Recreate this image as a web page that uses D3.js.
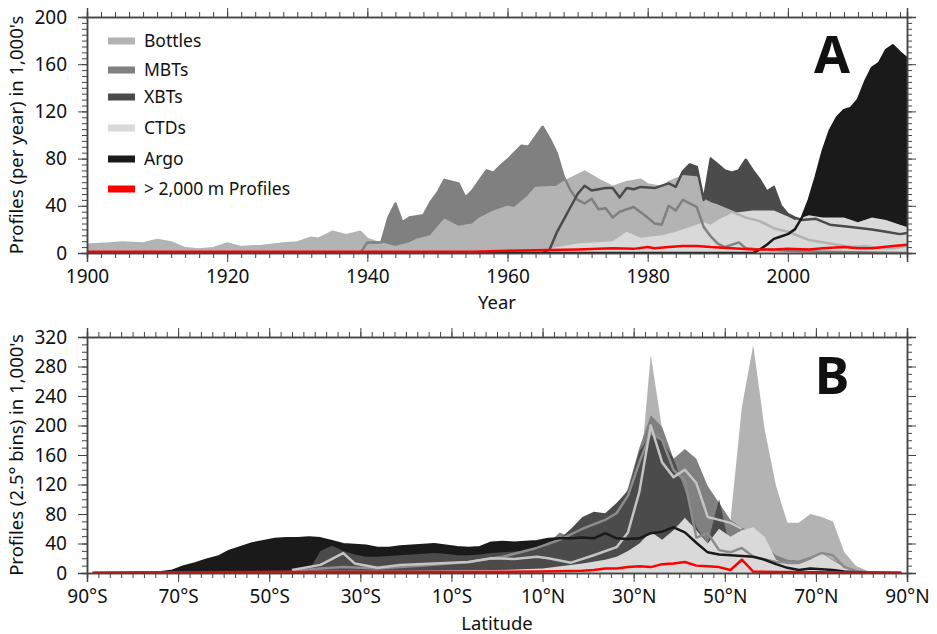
<!DOCTYPE html>
<html>
<head>
<meta charset="utf-8">
<script src="https://cdn.jsdelivr.net/npm/d3@7"></script>
<style>
  body { margin: 0; background: #fff; }
  text { font-family: "Noto Sans", sans-serif; fill: #111; }
</style>
</head>
<body>
<div id="canvas"></div>
<script>
// ---- panel A: profiles per year, [year, thousands] ----
const bottlesA = [[1900,7],[1903,8],[1905,9],[1908,8],[1910,11],[1912,9],[1914,4],[1916,3],[1918,4],[1920,8],[1922,5],
  [1925,6],[1928,8],[1930,9],[1932,13],[1933,12],[1935,18],[1937,15],[1939,18],[1940,12],[1942,8],[1944,5],[1946,8],
  [1947,11],[1949,14],[1951,28],[1953,22],[1955,24],[1956,29],[1958,35],[1960,39],[1961,38],[1963,48],[1964,55],
  [1967,56],[1968,60],[1971,69],[1973,62],[1975,56],[1977,60],[1979,62],[1980,58],[1982,56],[1983,60],[1985,65],
  [1987,64],[1988,45],[1989,42],[1990,40],[1992,35],[1994,30],[1996,27],[1998,21],[2000,18],[2003,11],[2006,8],
  [2009,5],[2011,6],[2013,4],[2015,4],[2017,6]]
const mbtA = [[1900,0],[1939,0],[1940,9],[1942,9],[1943,30],[1944,42],[1945,26],[1946,30],[1948,32],[1949,43],
  [1950,51],[1951,62],[1953,59],[1954,47],[1955,53],[1957,70],[1958,68],[1959,74],[1960,79],[1962,91],[1963,90],
  [1965,107],[1966,97],[1967,85],[1968,65],[1969,53],[1970,45],[1971,42],[1972,46],[1973,37],[1974,38],[1975,30],
  [1976,35],[1978,39],[1980,30],[1981,25],[1982,24],[1983,40],[1984,36],[1985,45],[1987,39],[1988,22],[1989,14],
  [1990,8],[1991,5],[1993,9],[1994,4],[1996,3],[2000,2],[2005,1],[2017,0]]
const xbtA = [[1900,0],[1965,0],[1966,3],[1967,17],[1968,28],[1969,39],[1970,50],[1971,57],[1972,53],[1974,55],
  [1975,55],[1976,47],[1977,55],[1978,54],[1979,56],[1981,55],[1983,59],[1984,56],[1985,69],[1986,75],[1987,73],
  [1988,45],[1989,80],[1990,75],[1991,70],[1992,68],[1993,70],[1994,79],[1995,70],[1996,62],[1997,52],[1998,56],
  [1999,40],[2000,33],[2001,30],[2002,28],[2004,29],[2006,24],[2009,22],[2012,20],[2014,18],[2016,16],[2017,17]]
const ctdA = [[1900,0],[1955,0],[1960,1],[1965,3],[1968,6],[1970,8],[1972,9],[1975,10],[1977,18],[1979,13],[1982,15],
  [1984,18],[1986,22],[1988,26],[1989,24],[1990,28],[1992,34],[1995,36],[1998,36],[2000,31],[2001,28],[2003,32],
  [2005,30],[2008,30],[2010,26],[2012,30],[2014,28],[2016,24],[2017,22]]
const argoA = [[1900,0],[1995,0],[1996,3],[1997,7],[1998,12],[1999,14],[2000,16],[2001,20],[2002,30],[2003,45],
  [2004,65],[2005,87],[2006,104],[2007,115],[2008,121],[2009,123],[2010,130],[2011,145],[2012,157],[2013,161],
  [2014,172],[2015,176],[2016,170],[2017,165]]
const deepA = [[1900,1],[1955,1],[1960,2],[1970,3],[1975,4],[1978,3.5],[1980,5],[1981,4],[1983,5],[1985,6],[1987,6],
  [1989,5],[1992,4],[1995,3],[1998,3],[2000,3.5],[2003,3],[2005,4],[2008,5],[2010,4],[2012,4],[2015,6],[2017,7]]

const yearTicks = [1900, 1920, 1940, 1960, 1980, 2000]
const countTicksA = [0, 40, 80, 120, 160, 200]

// ---- panel B: profiles per 2.5 degree latitude bin, [latitude, thousands] ----
const bottlesB = [[-88.75,0],[-80,0.5],[-70,2],[-60,3],[-50,4],[-40,5],[-30,5],[-20,4],[-10,5],[0,6],[10,10],[20,20],
  [28.75,60],[31.25,120],[33.75,296],[36.25,195],[38.75,140],[41.25,110],[43.75,100],[46.25,85],[48.75,70],[51.25,72],
  [53.75,225],[56.25,309],[58.75,195],[61.25,118],[63.75,68],[66.25,68],[68.75,80],[71.25,76],[73.75,70],[76.25,28],
  [78.75,10],[81.25,3],[83.75,1],[88.75,0]]
const mbtB = [[-88.75,0],[-60,1],[-40,3],[-35,6],[-20,5],[0,8],[10,20],[11.25,40],[13.75,55],[16.25,48],[18.75,40],
  [21.25,50],[23.75,60],[26.25,80],[28.75,115],[31.25,170],[33.75,214],[36.25,198],[38.75,155],[41.25,168],[43.75,155],
  [46.25,118],[48.75,95],[51.25,72],[53.75,62],[56.25,52],[58.75,38],[61.25,24],[63.75,18],[66.25,17],[68.75,22],
  [71.25,27],[73.75,18],[76.25,10],[78.75,3],[81.25,1],[88.75,0]]
const xbtB = [[-88.75,0],[-70,0.5],[-60,2],[-50,3],[-41.25,4],[-38.75,30],[-36.25,37],[-33.75,30],[-31.25,25],
  [-28.75,22],[-26.25,22],[-23.75,23],[-21.25,24],[-18.75,25],[-16.25,26],[-13.75,27],[-11.25,26],[-8.75,24],
  [-6.25,24],[-3.75,25],[-1.25,27],[1.25,28],[3.75,29],[6.25,30],[8.75,32],[11.25,42],[13.75,46],[16.25,60],
  [18.75,76],[21.25,83],[23.75,81],[26.25,95],[28.75,112],[31.25,165],[33.75,188],[36.25,180],[38.75,155],
  [41.25,112],[43.75,62],[46.25,40],[48.75,100],[51.25,30],[53.75,20],[56.25,15],[58.75,10],[61.25,6],[66.25,4],
  [71.25,3],[76.25,2],[81.25,0.5],[88.75,0]]
const ctdB = [[-88.75,0],[-70,1],[-60,2],[-40,3],[-20,3],[0,4],[10,6],[18.75,13],[23.75,18],[26.25,22],[28.75,30],
  [31.25,40],[33.75,56],[36.25,45],[38.75,58],[41.25,75],[43.75,58],[46.25,40],[48.75,60],[51.25,49],[53.75,58],
  [56.25,62],[58.75,49],[61.25,18],[63.75,12],[66.25,12],[68.75,18],[71.25,27],[73.75,17],[76.25,8],[78.75,3],
  [81.25,1],[88.75,0]]
const argoB = [[-88.75,0],[-81.25,0.5],[-73.75,1],[-71.25,3],[-68.75,9],[-66.25,13],[-63.75,18],[-61.25,22],
  [-58.75,30],[-56.25,35],[-53.75,40],[-51.25,43],[-48.75,46],[-46.25,47],[-43.75,47],[-41.25,48],[-38.75,47],
  [-36.25,43],[-33.75,39],[-31.25,38],[-28.75,37],[-26.25,34],[-23.75,34],[-21.25,36],[-18.75,37],[-16.25,38],
  [-13.75,39],[-11.25,37],[-8.75,35],[-6.25,34],[-3.75,35],[-1.25,41],[1.25,42],[3.75,41],[6.25,42],[8.75,43],
  [11.25,46],[13.75,47],[16.25,47],[18.75,48],[21.25,47],[23.75,54],[26.25,47],[28.75,46],[31.25,47],[33.75,54],
  [36.25,56],[38.75,62],[41.25,55],[43.75,41],[46.25,28],[48.75,25],[51.25,24],[53.75,23],[56.25,22],[58.75,18],
  [61.25,12],[63.75,7],[66.25,4],[68.75,6],[71.25,5],[73.75,4],[76.25,2],[78.75,1],[81.25,0.5],[88.75,0]]
const deepB = [[-88.75,0.5],[-70,1],[-40,1.5],[-10,1.5],[10,2],[18.75,3],[21.25,4],[23.75,6],[26.25,6],[28.75,8],
  [31.25,9],[33.75,8],[36.25,12],[38.75,13],[41.25,15],[43.75,10],[46.25,9],[48.75,8],[51.25,4],[53.75,18],
  [56.25,2],[61.25,1.5],[88.75,0.5]]
// the two pale lines seen over the shaded areas in panel B
const paleLineB = [[-45,4],[-38.75,11],[-33.75,27],[-31.25,13],[-26.25,7],[-21.25,11],[-13.75,13],[-6.25,15],
  [-1.25,20],[3.75,19],[8.75,22],[11.25,20],[16.25,14],[21.25,24],[26.25,35],[28.75,55],[31.25,110],[33.75,200],
  [36.25,150],[38.75,130],[41.25,140],[43.75,122],[46.25,76],[48.75,72],[51.25,68],[53.75,60]]
const greyLineB = [[-45,3],[-38.75,6],[-33.75,8],[-26.25,6],[-16.25,10],[-6.25,15],[1.25,22],[8.75,34],[13.75,45],
  [18.75,60],[23.75,72],[26.25,81],[28.75,105],[31.25,150],[33.75,190],[36.25,180],[38.75,140],[41.25,125],
  [43.75,48],[46.25,54],[48.75,31],[51.25,28],[53.75,34],[56.25,22],[61.25,15],[66.25,14],[71.25,27],[73.75,24],
  [76.25,8],[78.75,3],[81.25,1],[88.75,0]]

const latTicks = [-90, -70, -50, -30, -10, 10, 30, 50, 70, 90]
const countTicksB = [0, 40, 80, 120, 160, 200, 240, 280, 320]

const legendItems = ["Bottles", "MBTs", "XBTs", "CTDs", "Argo", "> 2,000 m Profiles"]

const colors = {bottles: "#b3b3b3", mbt: "#808080", xbt: "#4b4b4b", ctd: "#d9d9d9", argo: "#1a1a1a", deep: "#ff0000"}
const legendColors = [colors.bottles, colors.mbt, colors.xbt, colors.ctd, colors.argo, colors.deep]

let svg

window.onload = function () { setup() }

function setup() {
  svg = d3.select("#canvas").append("svg")
    .attr("width", 937)
    .attr("height", 634)

  drawPanelA()
  drawPanelB()
}

function drawPanelA() {
  let x = d3.scaleLinear().domain([1900, 2017]).range([87, 907])
  let y = d3.scaleLinear().domain([0, 200]).range([253, 17])

  let g = svg.append("g")
  clipTo(g, "clipA", x, y)

  let plot = g.append("g").attr("clip-path", "url(#clipA)")
  // back to front
  let areas = [[mbtA, colors.mbt], [xbtA, colors.xbt], [argoA, colors.argo], [bottlesA, colors.bottles], [ctdA, colors.ctd]]
  areas.forEach(a => drawArea(plot, a[0], a[1], x, y))

  let lines = [[bottlesA, colors.bottles], [mbtA, colors.mbt], [xbtA, colors.xbt], [argoA, colors.argo], [deepA, colors.deep]]
  lines.forEach(l => drawLine(plot, l[0], l[1], x, y))

  drawAxes(g, x, y, {
    xMajor: yearTicks, xMinor: d3.range(1900, 2017, 2), xFormat: d => d,
    yMajor: countTicksA, yMinor: d3.range(0, 201, 5)
  })

  g.append("text").attr("x", 497).attr("y", 309).attr("text-anchor", "middle")
    .attr("font-size", 18.5).text("Year")
  g.append("text").attr("transform", "translate(23,135) rotate(-90)").attr("text-anchor", "middle")
    .attr("font-size", 18.5).text("Profiles (per year) in 1,000's")
  g.append("text").attr("x", 832).attr("y", 73).attr("text-anchor", "middle")
    .attr("font-size", 52).attr("font-weight", "bold").text("A")

  let legend = g.append("g")
  legendItems.forEach((name, i) => {
    let cy = [41, 70, 97, 128, 159, 189][i]
    legend.append("rect").attr("x", 108).attr("y", cy - 3.5).attr("width", 27).attr("height", 7)
      .attr("fill", legendColors[i])
    legend.append("text").attr("x", 144).attr("y", cy + 6).attr("font-size", 17.5).text(name)
  })
}

function drawPanelB() {
  let x = d3.scaleLinear().domain([-90, 90]).range([87, 907])
  let y = d3.scaleLinear().domain([0, 320]).range([573, 337])

  let g = svg.append("g")
  clipTo(g, "clipB", x, y)

  let plot = g.append("g").attr("clip-path", "url(#clipB)")
  let areas = [[bottlesB, colors.bottles], [mbtB, colors.mbt], [argoB, colors.argo], [xbtB, colors.xbt], [ctdB, colors.ctd]]
  areas.forEach(a => drawArea(plot, a[0], a[1], x, y))

  let lines = [[greyLineB, "#8c8c8c"], [paleLineB, "#c4c4c4"], [argoB, colors.argo], [deepB, colors.deep]]
  lines.forEach(l => drawLine(plot, l[0], l[1], x, y))

  drawAxes(g, x, y, {
    xMajor: latTicks, xMinor: d3.range(-90, 90.1, 2.5),
    xFormat: d => Math.abs(d) + "°" + (d < 0 ? "S" : "N"),
    yMajor: countTicksB, yMinor: d3.range(0, 321, 10)
  })

  g.append("text").attr("x", 497).attr("y", 630).attr("text-anchor", "middle")
    .attr("font-size", 18.5).text("Latitude")
  g.append("text").attr("transform", "translate(23,455) rotate(-90)").attr("text-anchor", "middle")
    .attr("font-size", 18.5).text("Profiles (2.5° bins) in 1,000's")
  g.append("text").attr("x", 832).attr("y", 394).attr("text-anchor", "middle")
    .attr("font-size", 52).attr("font-weight", "bold").text("B")
}

function clipTo(g, id, x, y) {
  g.append("clipPath").attr("id", id).append("rect")
    .attr("x", x.range()[0]).attr("y", y.range()[1])
    .attr("width", x.range()[1] - x.range()[0]).attr("height", y.range()[0] - y.range()[1])
}

function drawArea(g, data, color, x, y) {
  let area = d3.area().x(d => x(d[0])).y0(y(0)).y1(d => y(d[1]))
  g.append("path").datum(data).attr("d", area).attr("fill", color)
}

function drawLine(g, data, color, x, y) {
  let line = d3.line().x(d => x(d[0])).y(d => y(d[1]))
  g.append("path").datum(data).attr("d", line).attr("fill", "none")
    .attr("stroke", color).attr("stroke-width", 2.5).attr("stroke-linejoin", "round")
}

function drawAxes(g, x, y, t) {
  let yb = y.range()[0], yt = y.range()[1], xl = x.range()[0], xr = x.range()[1]
  let sides = [
    [d3.axisBottom(x), yb, "x", true], [d3.axisTop(x), yt, "x", false],
    [d3.axisLeft(y), xl, "y", true], [d3.axisRight(y), xr, "y", false]
  ]
  sides.forEach(s => {
    let isX = s[2] == "x"
    let pos = isX ? "translate(0," + s[1] + ")" : "translate(" + s[1] + ",0)"
    let minor = s[0].tickValues(isX ? t.xMinor : t.yMinor).tickSize(5).tickFormat("")
    g.append("g").attr("transform", pos).call(minor).call(styleAxis)
    let major = s[0].tickValues(isX ? t.xMajor : t.yMajor).tickSize(9).tickPadding(isX ? 8 : 11)
      .tickFormat(s[3] ? (isX ? t.xFormat : d => d) : "")
    g.append("g").attr("transform", pos).call(major).call(styleAxis)
      .selectAll("text").attr("font-size", 19).attr("font-family", '"Noto Sans", sans-serif').attr("fill", "#111")
  })
}

function styleAxis(a) {
  a.select(".domain").attr("stroke", "#444").attr("stroke-width", 1.5)
  a.selectAll(".tick line").attr("stroke", "#444").attr("stroke-width", 1)
}
</script>
</body>
</html>
